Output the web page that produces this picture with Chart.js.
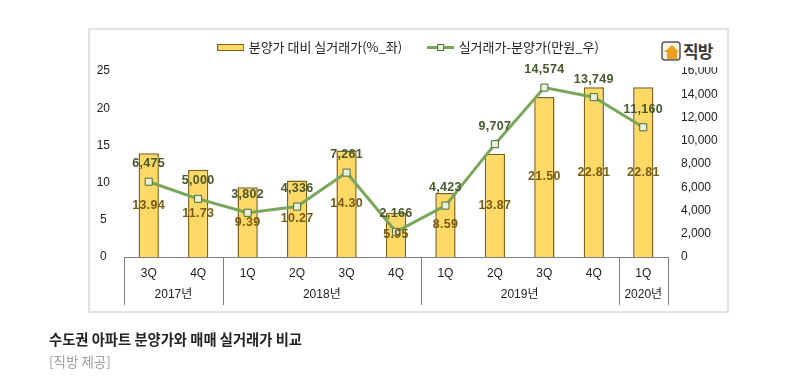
<!DOCTYPE html>
<html>
<head>
<meta charset="utf-8">
<script src="https://cdn.jsdelivr.net/npm/chart.js@4"></script>
<style>
    html, body { margin: 0; padding: 0; background: #fff; }
    #wrap { position: relative; width: 790px; height: 380px; overflow: hidden; font-family: "Noto Sans CJK KR", sans-serif; }
    #frame { position: absolute; left: 88px; top: 28px; width: 637px; height: 281px; border: 2px solid #e2e2e2; }
    #myChart { position: absolute; left: 0; top: 0; }
    #logo { position: absolute; left: 655px; top: 36px; width: 64px; height: 31px; background: #fff; }
    #logo svg { position: absolute; left: 6px; top: 5px; }
    #logo span { position: absolute; left: 28px; top: 3px; font-size: 17px; line-height: 24px; font-weight: 700; color: #3a3a3a; letter-spacing: -1px; }
    #caption { position: absolute; left: 49px; top: 329px; font-size: 14.3px; line-height: 20px; font-weight: 700; color: #222; }
    #source { position: absolute; left: 49px; top: 351px; font-size: 13.5px; line-height: 20px; color: #a0a0a0; }
</style>
</head>
<body>
<div id="wrap">
    <div id="frame"></div>
    <canvas id="myChart" width="790" height="380"></canvas>
    <div id="logo">
        <svg width="20" height="20" viewBox="0 0 20 20">
            <rect x="1" y="1" width="18" height="18" rx="3" fill="#f4f1e6" stroke="#555" stroke-width="1.5"/>
            <path d="M3 11 L11 4 L18 11 L16 11 L16 18 L6 18 L6 11 Z" fill="#f0a020"/>
        </svg>
        <span>직방</span>
    </div>
    <div id="caption">수도권 아파트 분양가와 매매 실거래가 비교</div>
    <div id="source">[직방 제공]</div>
</div>
<script>
const quarters = ['3Q', '4Q', '1Q', '2Q', '3Q', '4Q', '1Q', '2Q', '3Q', '4Q', '1Q'];
const years = ['2017년', '2018년', '2019년', '2020년'];
const yearSpans = [2, 4, 4, 1];
const ratioValues = [13.94, 11.73, 9.39, 10.27, 14.30, 5.95, 8.59, 13.87, 21.50, 22.81, 22.81];
const gapValues = [6475, 5000, 3802, 4336, 7261, 2166, 4423, 9707, 14574, 13749, 11160];
const ratioName = '분양가 대비 실거래가(%_좌)';
const gapName = '실거래가-분양가(만원_우)';

const barFill = '#ffd966';
const barBorder = '#7d6318';
const lineColor = '#7aa65a';
const tickFont = {family: '"Liberation Sans", sans-serif', size: 12};

function legendSwatch(isLine){
    let c = document.createElement('canvas');
    c.width = 27;
    c.height = 9;
    let ctx = c.getContext('2d');
    if(isLine){
        ctx.fillStyle = lineColor;
        ctx.fillRect(0, 3, 27, 3);
        ctx.fillStyle = '#e8f2dc';
        ctx.strokeStyle = '#4c6b38';
        ctx.fillRect(10, 1, 7, 7);
        ctx.strokeRect(10.5, 1.5, 6, 6);
    }else{
        ctx.fillStyle = barFill;
        ctx.fillRect(0, 1, 27, 7);
        ctx.strokeStyle = barBorder;
        ctx.strokeRect(0.5, 1.5, 26, 6);
    }
    return c;
}

// value labels and the two level category table under the plot
const extrasPlugin = {
    id: 'extras',
    beforeInit: function(chart){
        let fit = chart.legend.fit;
        chart.legend.fit = function(){
            fit.call(this);
            this.height = 57;
        };
    },
    afterDatasetsDraw: function(chart){
        let ctx = chart.ctx;
        let x = chart.scales.x;
        let area = chart.chartArea;
        let step = x.getPixelForValue(1) - x.getPixelForValue(0);

        ctx.save();
        ctx.strokeStyle = '#808080';
        ctx.lineWidth = 1;
        ctx.beginPath();
        ctx.moveTo(area.left, area.bottom + 0.5);
        ctx.lineTo(area.right, area.bottom + 0.5);
        let start = 0;
        let edges = [0];
        yearSpans.forEach(function(span){
            start += span;
            edges.push(start);
        });
        edges.forEach(function(e){
            let px = Math.round(x.getPixelForValue(e) - step / 2) + 0.5;
            ctx.moveTo(px, area.bottom);
            ctx.lineTo(px, area.bottom + 48);
        });
        ctx.stroke();

        ctx.fillStyle = '#222';
        ctx.font = '12px "Liberation Sans", "Noto Sans CJK KR", sans-serif';
        ctx.textAlign = 'center';
        ctx.textBaseline = 'middle';
        years.forEach(function(year, i){
            let mid = (edges[i] + edges[i + 1] - 1) / 2;
            ctx.fillText(year, x.getPixelForValue(mid), area.bottom + 38);
        });

        ctx.font = 'bold 12.5px "Liberation Sans", sans-serif';
        ctx.letterSpacing = '0.3px';
        ctx.fillStyle = '#7a5c12';
        chart.getDatasetMeta(1).data.forEach(function(bar, i){
            ctx.fillText(ratioValues[i].toFixed(2), bar.x, (bar.y + bar.base) / 2);
        });
        ctx.fillStyle = '#47592c';
        chart.getDatasetMeta(0).data.forEach(function(pt, i){
            ctx.fillText(gapValues[i].toLocaleString('en-US'), pt.x, pt.y - 18);
        });
        ctx.restore();
    }
};

new Chart(document.getElementById('myChart'), {
    type: 'bar',
    plugins: [extrasPlugin],
    data: {
        labels: quarters,
        datasets: [{
            type: 'line',
            label: gapName,
            data: gapValues,
            yAxisID: 'y1',
            order: 0,
            borderColor: lineColor,
            borderWidth: 3,
            tension: 0,
            pointStyle: 'rect',
            pointRadius: 5,
            pointBackgroundColor: '#e8f2dc',
            pointBorderColor: '#4c6b38',
            pointBorderWidth: 1
        }, {
            type: 'bar',
            label: ratioName,
            data: ratioValues,
            yAxisID: 'y',
            order: 1,
            backgroundColor: barFill,
            borderColor: barBorder,
            borderWidth: 1.5,
            barPercentage: 0.41,
            categoryPercentage: 1
        }]
    },
    options: {
        responsive: false,
        animation: false,
        layout: {
            padding: {left: 50, right: 22, top: 14, bottom: 73}
        },
        plugins: {
            tooltip: {enabled: false},
            legend: {
                display: true,
                position: 'top',
                labels: {
                    usePointStyle: true,
                    pointStyleWidth: 23,
                    padding: 27,
                    color: '#222',
                    font: {family: '"Noto Sans CJK KR", sans-serif', size: 13},
                    generateLabels: function(){
                        return [
                            {text: ratioName, pointStyle: legendSwatch(false), fontColor: '#222', lineWidth: 0, datasetIndex: 1},
                            {text: gapName, pointStyle: legendSwatch(true), fontColor: '#222', lineWidth: 0, datasetIndex: 0}
                        ];
                    }
                }
            }
        },
        scales: {
            x: {
                grid: {display: false},
                border: {display: false},
                afterFit: function(scale){ scale.height = 50; },
                ticks: {color: '#222', font: tickFont, padding: 1, maxRotation: 0, autoSkip: false}
            },
            y: {
                position: 'left',
                min: 0,
                max: 25,
                grid: {display: false},
                border: {display: false},
                afterFit: function(scale){ scale.width = 74; },
                ticks: {stepSize: 5, color: '#222', font: tickFont, padding: 6, crossAlign: 'center'}
            },
            y1: {
                position: 'right',
                min: 0,
                max: 16000,
                grid: {display: false},
                border: {display: false},
                afterFit: function(scale){ scale.width = 100; },
                ticks: {
                    stepSize: 2000,
                    color: '#222',
                    font: tickFont,
                    padding: 5,
                    crossAlign: 'near',
                    callback: function(v){ return v.toLocaleString('en-US'); }
                }
            }
        }
    }
});
</script>
</body>
</html>
